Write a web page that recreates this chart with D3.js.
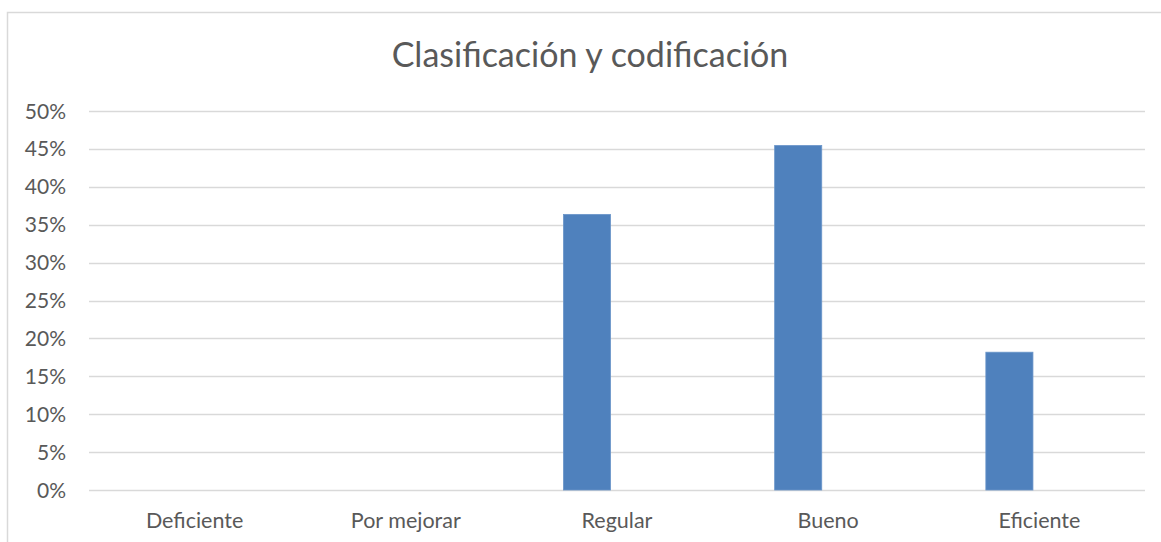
<!DOCTYPE html>
<html lang="es">
<head>
  <meta charset="UTF-8">
  <title>Clasificación y codificación</title>
  <script src="https://d3js.org/d3.v7.min.js"></script>
  <style>
    body { margin: 0; background: #fff; }
    svg { display: block; font-family: Lato, "Noto Sans", sans-serif; }
    .tick-label { fill: #595959; font-size: 21px; }
  </style>
</head>
<body>
<svg id="chart" width="1161" height="542"></svg>
<script>
  // Data
  const title = "Clasificación y codificación";
  const categories = ["Deficiente", "Por mejorar", "Regular", "Bueno", "Eficiente"];
  const values = [0, 0, 0.3636, 0.4545, 0.1818];
  const yTicks = [0, 0.05, 0.10, 0.15, 0.20, 0.25, 0.30, 0.35, 0.40, 0.45, 0.50];

  const width = 1161, height = 542;
  const plot = { left: 89, right: 1145, top: 111, bottom: 490 };

  const svg = d3.select("#chart");

  // chart area border (only left and top visible in the crop)
  svg.append("rect")
     .attr("x", 7.5).attr("y", 12.5)
     .attr("width", 1200).attr("height", 600)
     .attr("fill", "none")
     .attr("stroke", "#d9d9d9")
     .attr("stroke-width", 1.5);

  const x = d3.scaleBand()
              .domain(categories)
              .range([plot.left, plot.right]);

  const y = d3.scaleLinear()
              .domain([0, 0.5])
              .range([plot.bottom, plot.top]);

  // gridlines
  svg.append("g")
     .selectAll("line")
     .data(yTicks)
     .join("line")
     .attr("x1", plot.left).attr("x2", plot.right)
     .attr("y1", d => Math.round(y(d)) + 0.5)
     .attr("y2", d => Math.round(y(d)) + 0.5)
     .attr("stroke", "#d9d9d9")
     .attr("stroke-width", 1.5);

  // y axis labels
  svg.append("g")
     .selectAll("text")
     .data(yTicks)
     .join("text")
     .attr("class", "tick-label")
     .attr("x", 66)
     .attr("y", d => y(d))
     .attr("dy", "0.36em")
     .attr("text-anchor", "end")
     .text(d => d3.format(".0%")(d));

  // x axis labels
  svg.append("g")
     .selectAll("text")
     .data(categories)
     .join("text")
     .attr("class", "tick-label")
     .attr("font-size", 21.5)
     .style("font-size", "21.5px")
     .attr("x", d => x(d) + x.bandwidth() / 2)
     .attr("y", 528)
     .attr("text-anchor", "middle")
     .text(d => d);

  // bars sit left of the category centre (first slot of a clustered group)
  const barW = x.bandwidth() * 0.223;
  const barShift = -30;
  svg.append("g")
     .selectAll("rect")
     .data(categories.map((c, i) => ({ c, v: values[i] })))
     .join("rect")
     .attr("x", d => x(d.c) + x.bandwidth() / 2 + barShift - barW / 2)
     .attr("y", d => y(d.v))
     .attr("width", barW)
     .attr("height", d => y(0) - y(d.v))
     .attr("fill", "#4f81bd")
     .attr("stroke", "#6a95c9")
     .attr("stroke-width", 0.8);

  // title
  svg.append("text")
     .attr("x", 590)
     .attr("y", 67)
     .attr("text-anchor", "middle")
     .attr("fill", "#595959")
     .attr("font-size", 34)
     .text(title);
</script>
</body>
</html>
